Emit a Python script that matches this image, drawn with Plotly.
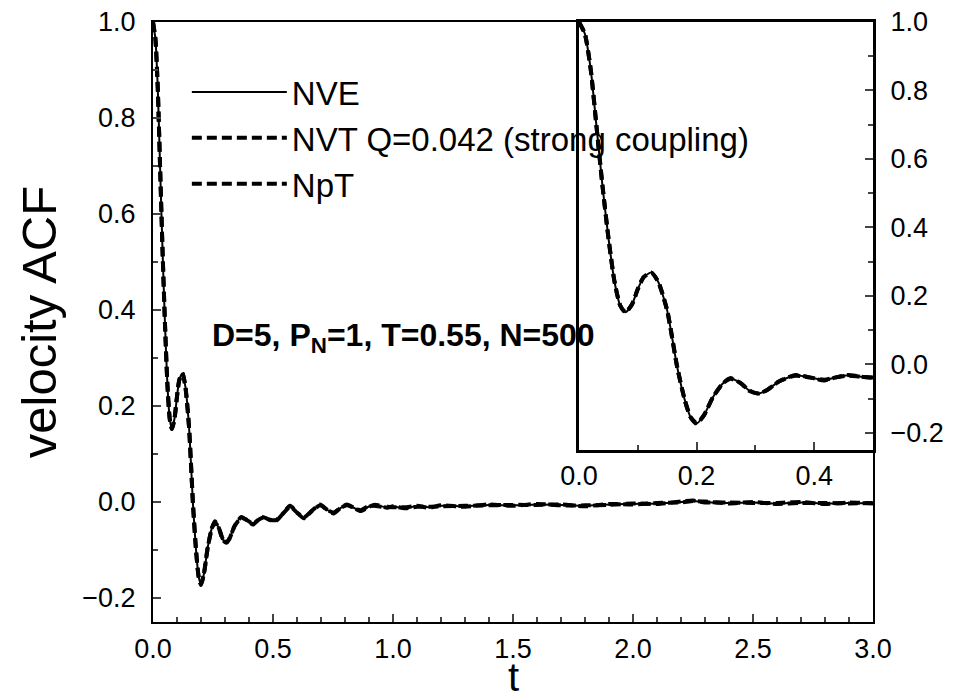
import plotly.graph_objects as go

# ---- data ----
t_vals = [0.000, 0.010, 0.020, 0.030, 0.040, 0.050, 0.060, 0.070, 0.079, 0.090,
          0.100, 0.110, 0.123, 0.135, 0.150, 0.167, 0.180, 0.190, 0.200, 0.212,
          0.228, 0.245, 0.258, 0.275, 0.290, 0.305, 0.320, 0.340, 0.368, 0.392,
          0.417, 0.437, 0.457, 0.480, 0.511, 0.540, 0.571, 0.600, 0.629, 0.663,
          0.696, 0.725, 0.752, 0.780, 0.807, 0.836, 0.865, 0.893, 0.921, 0.950,
          0.976, 1.000, 1.05, 1.10, 1.15, 1.20, 1.30, 1.40, 1.50, 1.60,
          1.70, 1.80, 1.90, 2.00, 2.10, 2.20, 2.25, 2.30, 2.40, 2.50,
          2.60, 2.70, 2.80, 2.90, 3.00]

acf_nve = [1.000, 0.965, 0.860, 0.690, 0.520, 0.370, 0.245, 0.172, 0.152, 0.175,
           0.220, 0.255, 0.268, 0.240, 0.157, -0.008, -0.105, -0.155, -0.172, -0.150,
           -0.095, -0.055, -0.041, -0.055, -0.077, -0.085, -0.075, -0.050, -0.032, -0.038,
           -0.046, -0.038, -0.032, -0.036, -0.039, -0.025, -0.009, -0.022, -0.033, -0.018,
           -0.006, -0.016, -0.023, -0.013, -0.006, -0.012, -0.018, -0.011, -0.007, -0.009,
           -0.011, -0.010, -0.012, -0.009, -0.011, -0.008, -0.009, -0.006, -0.007, -0.005,
           -0.006, -0.008, -0.005, -0.004, -0.003, 0.000, 0.002, 0.000, -0.002, -0.001,
           -0.003, -0.001, -0.003, -0.002, -0.003]

acf_nvt = [1.000, 0.965, 0.860, 0.690, 0.520, 0.370, 0.245, 0.172, 0.152, 0.175,
           0.220, 0.255, 0.268, 0.240, 0.157, -0.008, -0.105, -0.155, -0.173, -0.150,
           -0.095, -0.055, -0.040, -0.055, -0.078, -0.085, -0.075, -0.050, -0.031, -0.038,
           -0.047, -0.038, -0.031, -0.036, -0.040, -0.025, -0.008, -0.022, -0.034, -0.018,
           -0.005, -0.016, -0.024, -0.013, -0.005, -0.012, -0.017, -0.010, -0.008, -0.010,
           -0.010, -0.011, -0.011, -0.008, -0.012, -0.007, -0.010, -0.005, -0.008, -0.004,
           -0.007, -0.007, -0.006, -0.003, -0.004, 0.001, 0.003, -0.001, -0.001, -0.002,
           -0.002, 0.000, -0.004, -0.001, -0.003]

acf_npt = [1.000, 0.965, 0.860, 0.690, 0.520, 0.370, 0.245, 0.172, 0.152, 0.175,
           0.220, 0.255, 0.268, 0.240, 0.157, -0.008, -0.105, -0.155, -0.171, -0.150,
           -0.095, -0.055, -0.042, -0.055, -0.076, -0.085, -0.075, -0.050, -0.033, -0.038,
           -0.045, -0.038, -0.033, -0.036, -0.038, -0.025, -0.010, -0.022, -0.032, -0.018,
           -0.007, -0.016, -0.022, -0.013, -0.007, -0.012, -0.019, -0.012, -0.006, -0.008,
           -0.012, -0.009, -0.013, -0.010, -0.010, -0.009, -0.008, -0.007, -0.006, -0.006,
           -0.005, -0.009, -0.004, -0.005, -0.002, -0.001, 0.002, 0.001, -0.003, 0.000,
           -0.004, -0.002, -0.002, -0.003, -0.002]

series_names = ["NVE", "NVT Q=0.042 (strong coupling)", "NpT"]
x_title = "t"
y_title = "velocity ACF"
annotation_text = "D=5, P<sub>N</sub>=1, T=0.55, N=500"

FONT = "Liberation Sans, Arial, sans-serif"

fig = go.Figure()

styles = [dict(color="black", width=2, dash="solid"),
          dict(color="black", width=4, dash="10px,5px"),
          dict(color="black", width=4, dash="10px,5px")]
data_sets = [acf_nve, acf_nvt, acf_npt]

for name, vals, st in zip(series_names, data_sets, styles):
    fig.add_trace(go.Scatter(x=t_vals, y=vals, mode="lines", name=name,
                             line=dict(shape="spline", smoothing=0.6, **st),
                             xaxis="x", yaxis="y"))
for name, vals, st in zip(series_names, data_sets, styles):
    fig.add_trace(go.Scatter(x=t_vals, y=vals, mode="lines", name=name,
                             showlegend=False,
                             line=dict(shape="spline", smoothing=0.6, **st),
                             xaxis="x2", yaxis="y2"))

TICKSZ = 27

fig.update_layout(
    width=954, height=700,
    margin=dict(l=153, r=81, t=22, b=78, autoexpand=False),
    paper_bgcolor="white", plot_bgcolor="rgba(0,0,0,0)",
    font=dict(family=FONT, color="black", size=TICKSZ),
    showlegend=True,
    legend=dict(x=0.047, y=0.93, xanchor="left", yanchor="top",
                bgcolor="rgba(0,0,0,0)", font=dict(size=33, family=FONT),
                itemwidth=95, tracegroupgap=0),
    xaxis=dict(domain=[0, 1], range=[0, 3], dtick=0.5, tick0=0, tickformat=".1f",
               ticks="inside", ticklen=8, tickwidth=2, showline=True, linewidth=2,
               linecolor="black", mirror=True, showgrid=False, zeroline=False,
               minor=dict(dtick=0.1, ticks="inside", ticklen=5, tickwidth=2),
               tickfont=dict(size=TICKSZ), ticklabelstandoff=2, automargin=False),
    yaxis=dict(domain=[0, 1], range=[-0.25, 1.0], dtick=0.2, tick0=0, tickformat=".1f",
               ticks="inside", ticklen=8, tickwidth=2, showline=True, linewidth=2,
               linecolor="black", mirror=True, showgrid=False, zeroline=False,
               minor=dict(dtick=0.1, ticks="inside", ticklen=5, tickwidth=2),
               tickfont=dict(size=TICKSZ), ticklabelstandoff=10, automargin=False,
               title=dict(text=y_title, font=dict(size=49), standoff=10)),
    xaxis2=dict(domain=[0.5917, 1.0], anchor="y2", range=[0, 0.5], dtick=0.2, tick0=0,
                tickformat=".1f", ticks="inside", ticklen=8, tickwidth=2,
                showline=True, linewidth=3, linecolor="black", mirror=True,
                showgrid=False, zeroline=False, automargin=False,
                minor=dict(dtick=0.1, ticks="inside", ticklen=5, tickwidth=2),
                tickfont=dict(size=TICKSZ), ticklabelstandoff=0),
    yaxis2=dict(domain=[0.2867, 1.0], anchor="x2", side="right", range=[-0.25, 1.0],
                dtick=0.2, tick0=0, tickformat=".1f", ticks="inside", ticklen=8,
                tickwidth=2, showline=True, linewidth=3, linecolor="black", mirror=True,
                showgrid=False, zeroline=False, automargin=False,
                minor=dict(dtick=0.1, ticks="inside", ticklen=5, tickwidth=2),
                tickfont=dict(size=TICKSZ), ticklabelstandoff=9),
    annotations=[
        dict(x=1.045, y=0.342, xref="x", yref="y", text="<b>" + annotation_text + "</b>",
             showarrow=False, font=dict(size=32, family=FONT, color="black")),
        dict(x=0.5, y=-0.13, xref="paper", yref="paper", text=x_title,
             showarrow=False, xanchor="center", yanchor="bottom", borderpad=0,
             font=dict(size=40, family=FONT, color="black")),
    ],
)

fig.write_html("out.html")
